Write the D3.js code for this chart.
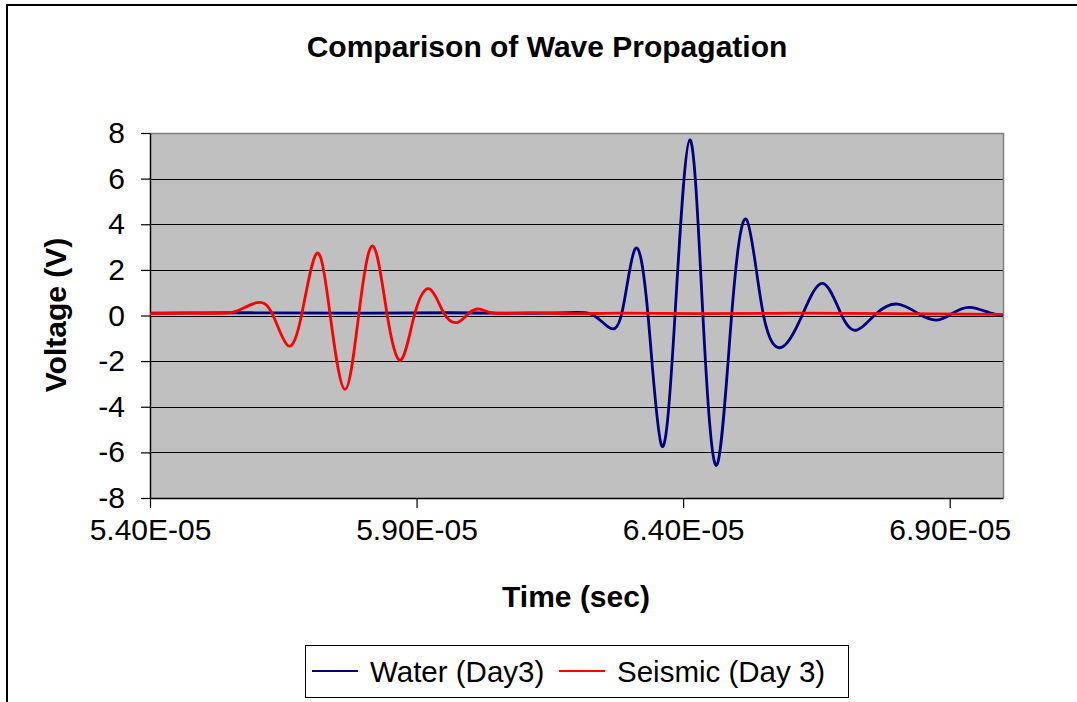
<!DOCTYPE html>
<html>
<head>
<meta charset="utf-8">
<script src="https://cdn.jsdelivr.net/npm/d3@7"></script>
<style>
  html, body { margin: 0; padding: 0; background: #fff; }
  svg { display: block; font-family: "Liberation Sans", Arial, sans-serif; }
</style>
</head>
<body>
<svg id="chart" width="1077" height="702"></svg>
<script>
// Time samples in microseconds (peaks, troughs and zero crossings), voltages in volts
const waterTime = [54.000, 55.875, 57.750, 59.625, 61.500, 62.250, 62.588, 62.850, 63.094, 63.338,
  63.600, 63.850, 64.125, 64.369, 64.631, 64.913, 65.194, 65.500, 65.869, 66.250,
  66.619, 66.956, 67.256, 67.631, 68.025, 68.400, 68.756, 69.056, 69.375, 69.750, 70.000];
const waterVolt = [0.10, 0.12, 0.10, 0.12, 0.10, 0.08, -0.49, 0.10, 2.90, 0.10,
  -5.72, 0.10, 7.70, 0.10, -6.56, 0.10, 4.19, 0.10, -1.37, 0.10,
  1.41, 0.10, -0.64, 0.10, 0.50, 0.10, -0.20, 0.10, 0.36, 0.12, 0.00];

const seismicTime = [54.000, 54.750, 55.406, 55.688, 56.006, 56.288, 56.588, 56.850, 57.131, 57.375,
  57.656, 57.919, 58.181, 58.444, 58.706, 58.969, 59.250, 59.513, 59.775, 59.981,
  60.188, 60.469, 61.125, 61.969, 62.813, 64.313, 66.188, 68.063, 70.000];
const seismicVolt = [0.08, 0.10, 0.10, 0.25, 0.56, 0.10, -1.32, 0.10, 2.73, 0.10,
  -3.24, 0.10, 3.05, 0.10, -1.95, 0.10, 1.16, 0.10, -0.30, 0.10,
  0.28, 0.10, 0.12, 0.08, 0.10, 0.08, 0.10, 0.08, 0.05];

const xTicks = [54, 59, 64, 69];
const yTicks = [-8, -6, -4, -2, 0, 2, 4, 6, 8];

const seriesNames = ["Water (Day3)", "Seismic (Day 3)"];
const seriesColors = ["#000080", "#FF0000"];

const svg = d3.select("#chart");

// outer chart frame
svg.append("rect")
  .attr("x", 7).attr("y", 5)
  .attr("width", 1080).attr("height", 710)
  .attr("fill", "#fff").attr("stroke", "#000").attr("stroke-width", 2);

const plot = { left: 150, top: 133, right: 1003, bottom: 498 };

const x = d3.scaleLinear().domain([54, 70]).range([plot.left, plot.right]);
const y = d3.scaleLinear().domain([-8, 8]).range([plot.bottom, plot.top]);

// plot area background
svg.append("rect")
  .attr("x", plot.left).attr("y", plot.top)
  .attr("width", plot.right - plot.left).attr("height", plot.bottom - plot.top)
  .attr("fill", "#C0C0C0");

// horizontal gridlines
svg.append("g")
  .selectAll("line")
  .data(yTicks.filter(d => d > -8 && d < 8))
  .join("line")
  .attr("x1", plot.left).attr("x2", plot.right)
  .attr("y1", d => Math.round(y(d)) + 0.5).attr("y2", d => Math.round(y(d)) + 0.5)
  .attr("stroke", "#000").attr("stroke-width", 1);

// plot area border (top and right)
svg.append("path")
  .attr("d", `M${plot.left},${plot.top + 0.5}H${plot.right + 0.5}V${plot.bottom}`)
  .attr("fill", "none").attr("stroke", "#808080").attr("stroke-width", 1.5);

// format 54 (µs) as 5.40E-05
function sciLabel(us) {
  const s = (us * 1e-6).toExponential(2);
  const [m, e] = s.split("e");
  const n = parseInt(e, 10);
  return m + "E" + (n < 0 ? "-" : "+") + String(Math.abs(n)).padStart(2, "0");
}

// y axis
const yAxis = svg.append("g")
  .attr("transform", `translate(${plot.left},0)`)
  .call(d3.axisLeft(y).tickValues(yTicks).tickSize(9).tickSizeOuter(0).tickPadding(16).tickFormat(d3.format("d")));
yAxis.select(".domain").attr("stroke", "#000").attr("stroke-width", 1.5);
yAxis.selectAll(".tick line").attr("stroke", "#000").attr("stroke-width", 1.2);
yAxis.selectAll(".tick text")
  .attr("font-size", 30).attr("fill", "#000")
  .attr("font-family", "Liberation Sans, Arial, sans-serif")
  .text(d => d < 0 ? "-" + Math.abs(d) : d);

// x axis
const xAxis = svg.append("g")
  .attr("transform", `translate(0,${plot.bottom})`)
  .call(d3.axisBottom(x).tickValues(xTicks).tickSize(10).tickSizeOuter(0).tickPadding(11).tickFormat(sciLabel));
xAxis.select(".domain").attr("stroke", "#000").attr("stroke-width", 1.5);
xAxis.selectAll(".tick line").attr("stroke", "#000").attr("stroke-width", 1.2);
xAxis.selectAll(".tick text")
  .attr("font-size", 30).attr("fill", "#000")
  .attr("font-family", "Liberation Sans, Arial, sans-serif");

// series lines
const water = waterTime.map((t, i) => ({ t, v: waterVolt[i] }));
const seismic = seismicTime.map((t, i) => ({ t, v: seismicVolt[i] }));

const line = d3.line()
  .x(d => x(d.t))
  .y(d => y(d.v))
  .curve(d3.curveNatural);

svg.append("clipPath").attr("id", "plotClip")
  .append("rect")
  .attr("x", plot.left).attr("y", plot.top - 4)
  .attr("width", plot.right - plot.left + 3).attr("height", plot.bottom - plot.top + 8);

const lines = svg.append("g").attr("clip-path", "url(#plotClip)");
[water, seismic].forEach((data, i) => {
  lines.append("path")
    .datum(data)
    .attr("d", line)
    .attr("fill", "none")
    .attr("stroke", seriesColors[i])
    .attr("stroke-width", 2.8)
    .attr("stroke-linejoin", "round");
});

// title
svg.append("text")
  .attr("x", 547).attr("y", 57)
  .attr("text-anchor", "middle")
  .attr("font-size", 30).attr("font-weight", "bold")
  .text("Comparison of Wave Propagation");

// axis titles
svg.append("text")
  .attr("x", 576).attr("y", 607)
  .attr("text-anchor", "middle")
  .attr("font-size", 30).attr("font-weight", "bold")
  .text("Time (sec)");

svg.append("text")
  .attr("transform", "translate(66,315) rotate(-90)")
  .attr("text-anchor", "middle")
  .attr("font-size", 30).attr("font-weight", "bold")
  .text("Voltage (V)");

// legend
const legend = svg.append("g");
legend.append("rect")
  .attr("x", 305.5).attr("y", 645.5)
  .attr("width", 543).attr("height", 52)
  .attr("fill", "#fff").attr("stroke", "#000").attr("stroke-width", 1);

const legendItems = [
  { name: seriesNames[0], color: seriesColors[0], x1: 312, x2: 358, tx: 370 },
  { name: seriesNames[1], color: seriesColors[1], x1: 559, x2: 605, tx: 617 }
];
legendItems.forEach(it => {
  legend.append("line")
    .attr("x1", it.x1).attr("x2", it.x2)
    .attr("y1", 671).attr("y2", 671)
    .attr("stroke", it.color).attr("stroke-width", 2.2);
  legend.append("text")
    .attr("x", it.tx).attr("y", 682)
    .attr("font-size", 29.5)
    .text(it.name);
});
</script>
</body>
</html>
